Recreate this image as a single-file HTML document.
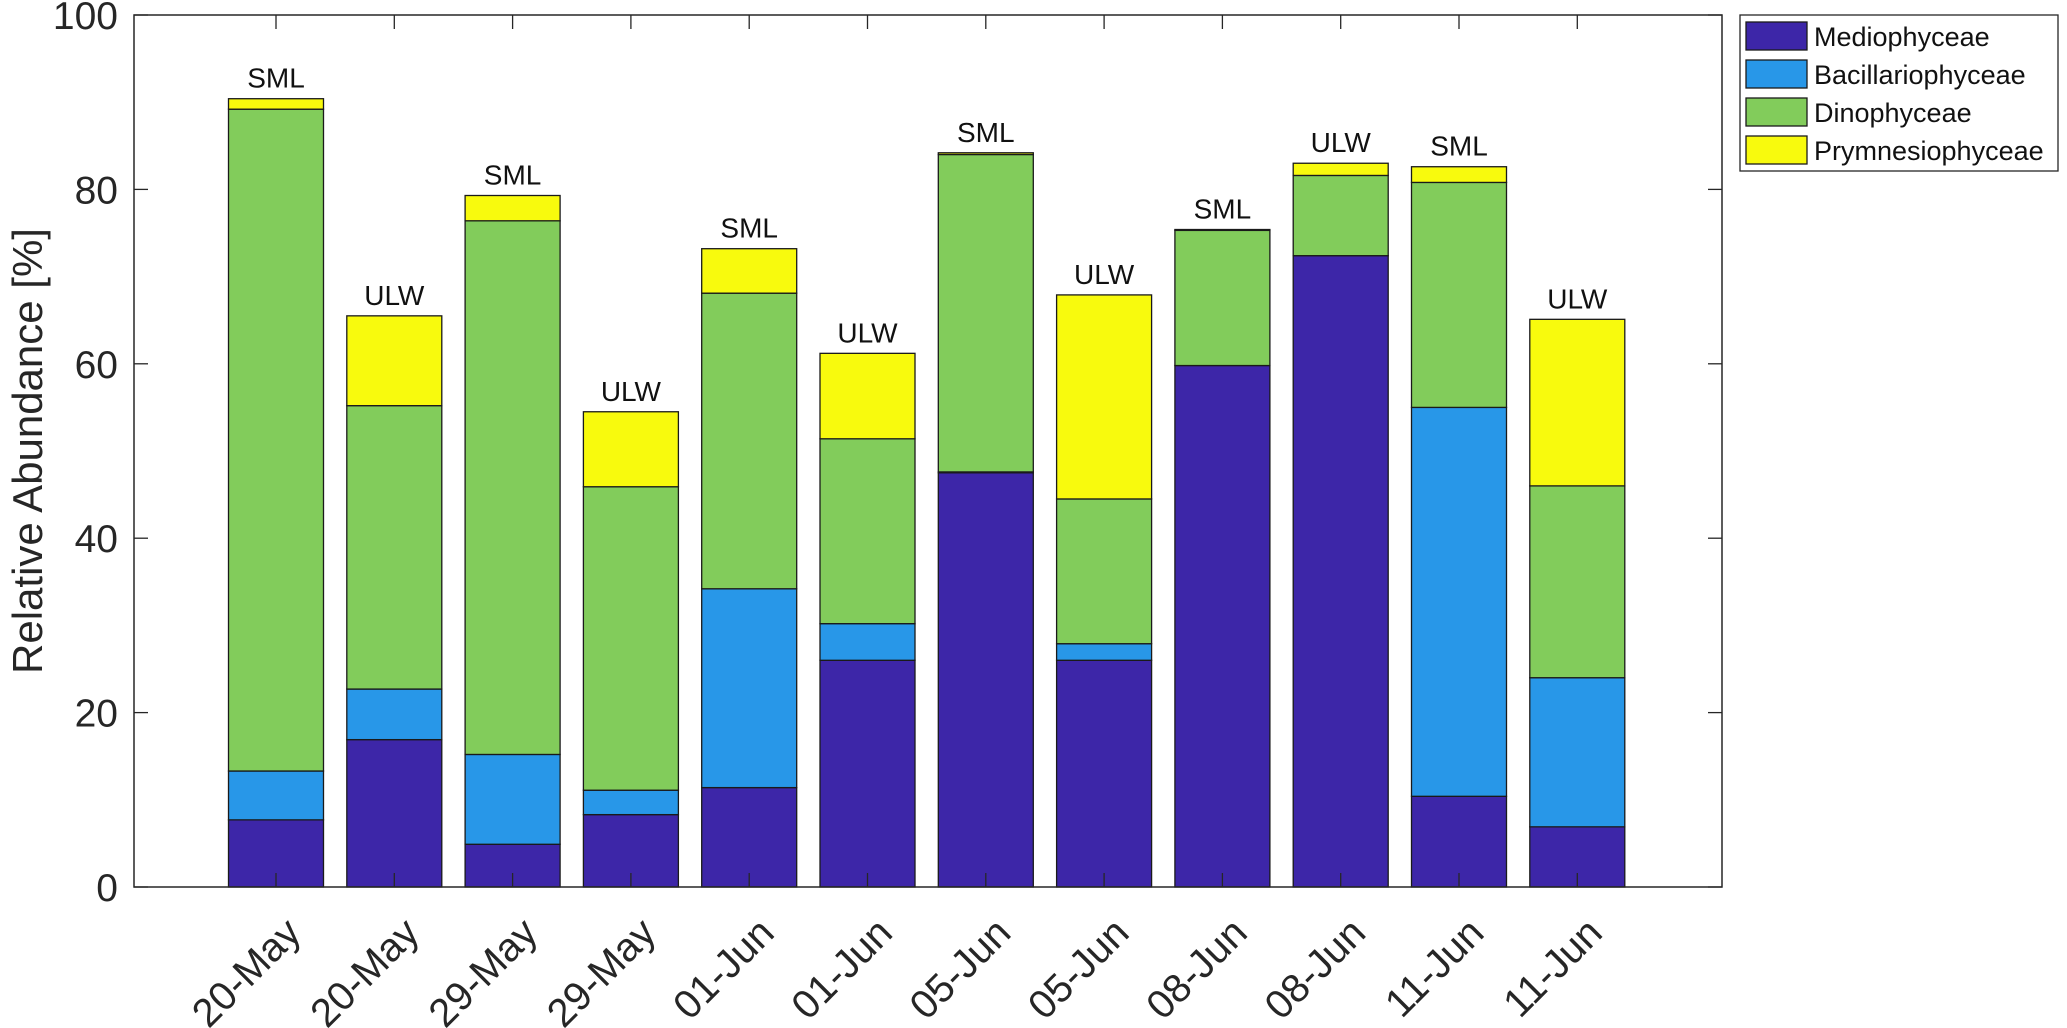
<!DOCTYPE html>
<html><head><meta charset="utf-8"><style>body{margin:0;background:#fff}svg{display:block;font-family:"Liberation Sans",sans-serif}</style></head>
<body>
<svg id="c" width="2067" height="1028" viewBox="0 0 2067 1028"></svg>
<script>
const categories=["20-May","20-May","29-May","29-May","01-Jun","01-Jun","05-Jun","05-Jun","08-Jun","08-Jun","11-Jun","11-Jun"];
const layers=["SML","ULW","SML","ULW","SML","ULW","SML","ULW","SML","ULW","SML","ULW"];
const medio=[7.7,16.9,4.9,8.3,11.4,26,47.5,26,59.8,72.4,10.4,6.9];
const bacil=[5.6,5.8,10.3,2.8,22.8,4.2,0.1,1.9,0,0,44.6,17.1];
const dino=[75.9,32.5,61.2,34.8,33.9,21.2,36.4,16.6,15.5,9.2,25.8,22];
const prym=[1.2,10.3,2.9,8.6,5.1,9.8,0.2,23.4,0.1,1.4,1.8,19.1];
const seriesNames=["Mediophyceae","Bacillariophyceae","Dinophyceae","Prymnesiophyceae"];
const colors=["#3d26a8","#2897e8","#82cc5b","#f8fa0d"];
const yTicks=[0,20,40,60,80,100];
const L=134,R=1722,T=15,B=887;
const ys=v=>B-(v/100)*(B-T);
const xs=i=>276+i*118.3;
const bw=95;
const svg=document.getElementById('c');
const NS='http://www.w3.org/2000/svg';
function mk(tag,attrs,parent){const e=document.createElementNS(NS,tag);for(const k in attrs)e.setAttribute(k,attrs[k]);(parent||svg).appendChild(e);return e;}
mk('rect',{x:L,y:T,width:R-L,height:B-T,fill:'#fff'});
const series=[medio,bacil,dino,prym];
categories.forEach((c,i)=>{
  let base=0;
  const g=mk('g',{});
  
  
  series.forEach((s,k)=>{
    const v=s[i];
    if(v>0){
      const r=mk('rect',{x:xs(i)-bw/2,y:ys(base+v),width:bw,height:ys(base)-ys(base+v),fill:colors[k],stroke:'#1a1a1a','stroke-width':1.3},g);
      
      
    }
    base+=v;
  });
  const t=mk('text',{x:xs(i),y:ys(base)-11,'font-size':28,'text-anchor':'middle',fill:'#111'});
  t.textContent=layers[i];
  
  
  const tk=mk('line',{x1:xs(i),x2:xs(i),y1:B,y2:B-14,stroke:'#262626','stroke-width':1.3});
  
  
  const tk2=mk('line',{x1:xs(i),x2:xs(i),y1:T,y2:T+14,stroke:'#262626','stroke-width':1.3});
  
  
  const xl=mk('text',{x:0,y:0,'font-size':40,'text-anchor':'end',fill:'#262626',transform:`translate(${xs(i)+27},${B+48}) rotate(-45)`});
  xl.textContent=c;
  
  
});
yTicks.forEach(v=>{
  const a=mk('line',{x1:L,x2:L+14,y1:ys(v),y2:ys(v),stroke:'#262626','stroke-width':1.3});
  
  
  const b=mk('line',{x1:R,x2:R-14,y1:ys(v),y2:ys(v),stroke:'#262626','stroke-width':1.3});
  
  
  const t=mk('text',{x:L-16,y:ys(v)+14,'font-size':39,'text-anchor':'end',fill:'#262626'});
  t.textContent=v;
  
  
});
const box=mk('rect',{x:L,y:T,width:R-L,height:B-T,fill:'none',stroke:'#262626','stroke-width':1.5});


const yt=mk('text',{x:0,y:0,'font-size':42,'text-anchor':'middle',fill:'#262626',transform:`translate(42,${(T+B)/2}) rotate(-90)`});
yt.textContent='Relative Abundance [%]';


const lg=mk('g',{});


mk('rect',{x:1740,y:15,width:318,height:156,fill:'#fff',stroke:'#262626','stroke-width':1.3},lg);
seriesNames.forEach((n,k)=>{
  const y=22+k*38;
  const e=mk('g',{},lg);
  
  
  mk('rect',{x:1746,y:y,width:61,height:28,fill:colors[k],stroke:'#1a1a1a','stroke-width':1.3},e);
  const t=mk('text',{x:1814,y:y+24,'font-size':27,fill:'#111'},e);
  t.textContent=n;
});
</script>
</body></html>
